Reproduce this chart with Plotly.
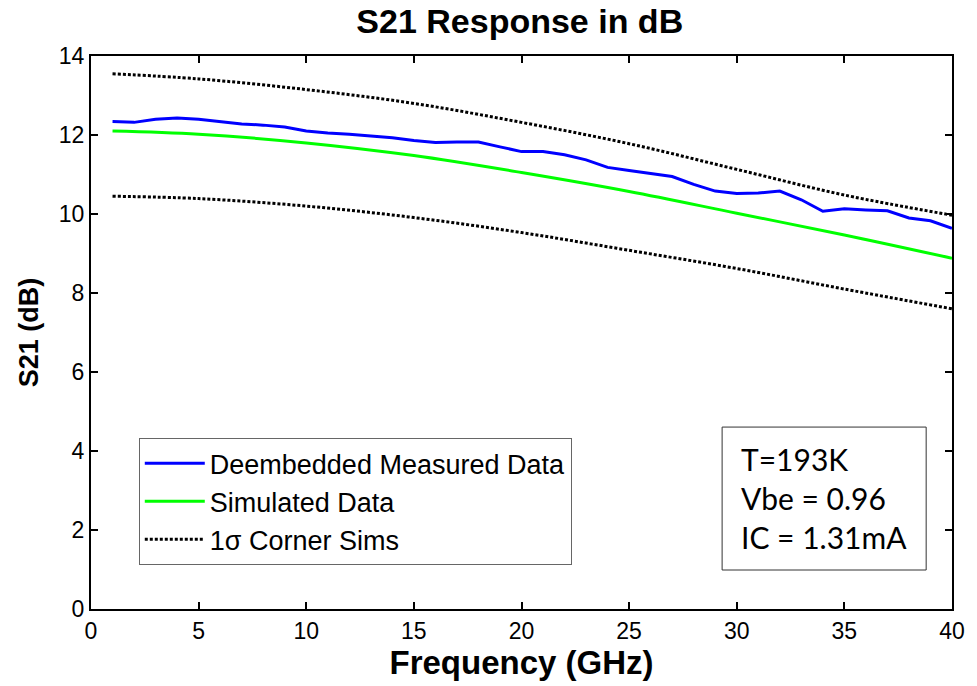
import plotly.graph_objects as go

# Measured (deembedded) S21, 1..40 GHz
freq_meas = list(range(1, 41))
s21_meas = [12.34, 12.32, 12.40, 12.43, 12.40, 12.34, 12.28, 12.25, 12.20, 12.10,
            12.05, 12.02, 11.98, 11.93, 11.86, 11.81, 11.82, 11.82, 11.70, 11.58,
            11.58, 11.50, 11.37, 11.18, 11.10, 11.03, 10.95, 10.75, 10.58, 10.52,
            10.53, 10.58, 10.36, 10.07, 10.13, 10.10, 10.08, 9.90, 9.83, 9.64]

# Simulated and corner sims
freq_sim = [1, 5, 10, 15, 20, 25, 30, 35, 40]
s21_sim = [12.10, 12.02, 11.80, 11.48, 11.05, 10.57, 10.02, 9.47, 8.88]
s21_upper = [13.55, 13.42, 13.15, 12.80, 12.32, 11.78, 11.13, 10.48, 9.97]
s21_lower = [10.45, 10.39, 10.20, 9.91, 9.53, 9.08, 8.62, 8.10, 7.60]

x_ticks = [0, 5, 10, 15, 20, 25, 30, 35, 40]
y_ticks = [0, 2, 4, 6, 8, 10, 12, 14]

FONT = "Liberation Sans, Arial"

fig = go.Figure()
fig.add_trace(go.Scatter(x=freq_meas, y=s21_meas, mode="lines",
                         name="Deembedded Measured Data", legendgroup="a",
                         line=dict(color="#0000ff", width=3)))
fig.add_trace(go.Scatter(x=freq_sim, y=s21_sim, mode="lines", name="Simulated Data",
                         legendgroup="b",
                         line=dict(color="#00ff00", width=3, shape="spline")))
fig.add_trace(go.Scatter(x=freq_sim, y=s21_upper, mode="lines", name="1σ Corner Sims",
                         legendgroup="c",
                         line=dict(color="black", width=3, dash="3px,2px", shape="spline")))
fig.add_trace(go.Scatter(x=freq_sim, y=s21_lower, mode="lines", name="1σ Corner Sims",
                         showlegend=False, legendgroup="c",
                         line=dict(color="black", width=3, dash="3px,2px", shape="spline")))

axis_common = dict(showline=True, linecolor="black", linewidth=2, mirror="ticks",
                   ticks="inside", ticklen=7, tickwidth=2, tickcolor="black",
                   showgrid=False, zeroline=False,
                   tickfont=dict(family=FONT, size=23, color="black"))

fig.update_xaxes(range=[0, 40], tickvals=x_ticks,
                 title=dict(text="<b>Frequency (GHz)</b>", standoff=2,
                            font=dict(family=FONT, size=33, color="black")),
                 **axis_common)
fig.update_yaxes(range=[0, 14], tickvals=y_ticks,
                 title=dict(text="<b>S21 (dB)</b>", standoff=12,
                            font=dict(family=FONT, size=27, color="black")),
                 **axis_common)

fig.update_layout(
    width=977, height=686,
    margin=dict(l=91, r=21, t=56, b=77),
    plot_bgcolor="white", paper_bgcolor="white",
    title=dict(text="<b>S21 Response in dB</b>", x=0.532, xanchor="center",
               y=0.969, yanchor="middle",
               font=dict(family=FONT, size=34, color="black")),
    legend=dict(x=0.0555, y=0.309, xanchor="left", yanchor="top",
                bgcolor="white", bordercolor="#666666", borderwidth=1,
                font=dict(family=FONT, size=27, color="black"),
                tracegroupgap=0, itemwidth=60),
    showlegend=True,
)

# Parameter box
fig.add_shape(type="rect", xref="paper", yref="paper",
              x0=0.733, x1=0.970, y0=0.0705, y1=0.329,
              line=dict(color="#333333", width=1), fillcolor="white", layer="above")
fig.add_annotation(
    xref="paper", yref="paper", x=0.7526, y=0.2007, xanchor="left", yanchor="middle",
    text="T=193K<br>Vbe = 0.96<br>IC = 1.31mA", showarrow=False, align="left",
    font=dict(family="Lato, Open Sans", size=30, color="black"),
)

fig.write_html("out.html")
